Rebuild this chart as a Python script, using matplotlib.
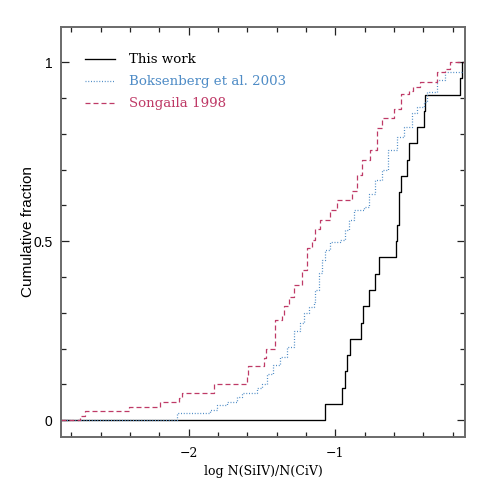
import numpy as np
import matplotlib
matplotlib.use("Agg")
import matplotlib.pyplot as plt
from matplotlib.ticker import MultipleLocator, FixedLocator

# ---- data ----
# "This work": individual log N(SiIV)/N(CIV) values (22 systems)
this_work_vals = [-1.073, -0.952, -0.936, -0.920, -0.900, -0.821, -0.811, -0.770,
                  -0.729, -0.700, -0.586, -0.577, -0.562, -0.562, -0.550, -0.511,
                  -0.500, -0.443, -0.398, -0.391, -0.148, -0.136]

# Boksenberg et al. 2003: step positions and cumulative levels
boks_x = [-2.079, -1.852, -1.806, -1.738, -1.670, -1.636, -1.534, -1.500, -1.466,
          -1.421, -1.375, -1.329, -1.284, -1.239, -1.216, -1.182, -1.148, -1.136,
          -1.114, -1.091, -1.068, -1.034, -0.966, -0.932, -0.909, -0.875, -0.807,
          -0.773, -0.727, -0.682, -0.637, -0.579, -0.534, -0.477, -0.443, -0.398,
          -0.375, -0.307, -0.250]
boks_y = [0.019, 0.028, 0.042, 0.051, 0.065, 0.075, 0.089, 0.100, 0.130,
          0.154, 0.177, 0.205, 0.250, 0.270, 0.298, 0.316, 0.330, 0.363,
          0.410, 0.447, 0.475, 0.498, 0.503, 0.530, 0.559, 0.587, 0.596,
          0.633, 0.670, 0.698, 0.754, 0.790, 0.820, 0.857, 0.875, 0.889,
          0.917, 0.950, 0.971]

# Songaila 1998: step positions and cumulative levels
song_x = [-2.738, -2.704, -2.409, -2.198, -2.068, -2.043, -1.830, -1.602, -1.593,
          -1.489, -1.474, -1.409, -1.363, -1.352, -1.318, -1.284, -1.227, -1.193,
          -1.159, -1.136, -1.102, -1.034, -0.988, -0.884, -0.852, -0.818, -0.761,
          -0.716, -0.680, -0.598, -0.550, -0.500, -0.468, -0.420, -0.305, -0.250,
          -0.216]
song_y = [0.0125, 0.025, 0.0375, 0.05, 0.0625, 0.075, 0.100, 0.125, 0.150,
          0.175, 0.200, 0.280, 0.293, 0.320, 0.345, 0.377, 0.420, 0.480,
          0.503, 0.535, 0.560, 0.587, 0.615, 0.640, 0.684, 0.726, 0.754,
          0.815, 0.843, 0.870, 0.912, 0.920, 0.930, 0.945, 0.973, 0.980,
          1.000]

labels = ["This work", "Boksenberg et al. 2003", "Songaila 1998"]
colors = ["black", "#4f8cc6", "#bf3a67"]

XLIM = (-2.87, -0.115)
YLIM = (-0.047, 1.098)

fig = plt.figure(figsize=(4.91, 4.91), dpi=100)
ax = fig.add_axes([61/491, 1-437/491, 404/491, 410/491])

# cumulative fraction of this work
tw = np.sort(np.array(this_work_vals))
tw_y = np.arange(1, len(tw) + 1) / len(tw)

def stepline(x, y, **kw):
    xx = np.r_[XLIM[0], x, XLIM[1]]
    yy = np.r_[0.0, y, y[-1]]
    return ax.step(xx, yy, where='post', **kw)[0]

l1 = stepline(tw, tw_y, color=colors[0], lw=0.95, label=labels[0])
l2 = stepline(np.array(boks_x), np.array(boks_y), color=colors[1], lw=0.9,
              linestyle=(0, (0.8, 1.4)), label=labels[1])
l3 = stepline(np.array(song_x), np.array(song_y), color=colors[2], lw=0.9,
              linestyle=(0, (4.0, 2.4)), label=labels[2])

ax.set_xlim(*XLIM)
ax.set_ylim(*YLIM)

ax.xaxis.set_major_locator(FixedLocator([-2, -1]))
ax.xaxis.set_minor_locator(MultipleLocator(0.2))
ax.yaxis.set_major_locator(FixedLocator([0, 0.5, 1]))
ax.yaxis.set_minor_locator(MultipleLocator(0.1))
ax.set_xticklabels(["\u22122", "\u22121"], family="DejaVu Serif", fontsize=9)
ax.set_yticklabels(["0", "0.5", "1"], family="Liberation Sans", fontsize=10)

ax.tick_params(which='both', direction='in', top=True, right=True, color='#222222')
ax.tick_params(which='major', length=6, width=0.9)
ax.tick_params(which='minor', length=3.5, width=0.9)
ax.tick_params(axis='x', which='major', pad=7)
ax.tick_params(axis='y', which='major', pad=6)

for s in ax.spines.values():
    s.set_color('#6a6a6a')
    s.set_linewidth(1.4)

ax.set_xlabel("log N(SiIV)/N(CiV)", family="DejaVu Serif", fontsize=9, labelpad=4)
ax.set_ylabel("Cumulative fraction", family="Liberation Sans", fontsize=11, labelpad=-1)

leg = ax.legend(handles=[l1, l2, l3], loc='upper left',
                bbox_to_anchor=(0.06, 0.936), frameon=False,
                prop={'family': 'DejaVu Serif', 'size': 9.6},
                handlelength=2.2, handletextpad=1.1, labelspacing=0.68,
                borderpad=0, borderaxespad=0)
for t, c in zip(leg.get_texts(), colors):
    t.set_color(c)

fig.savefig("out.png", dpi=100)
